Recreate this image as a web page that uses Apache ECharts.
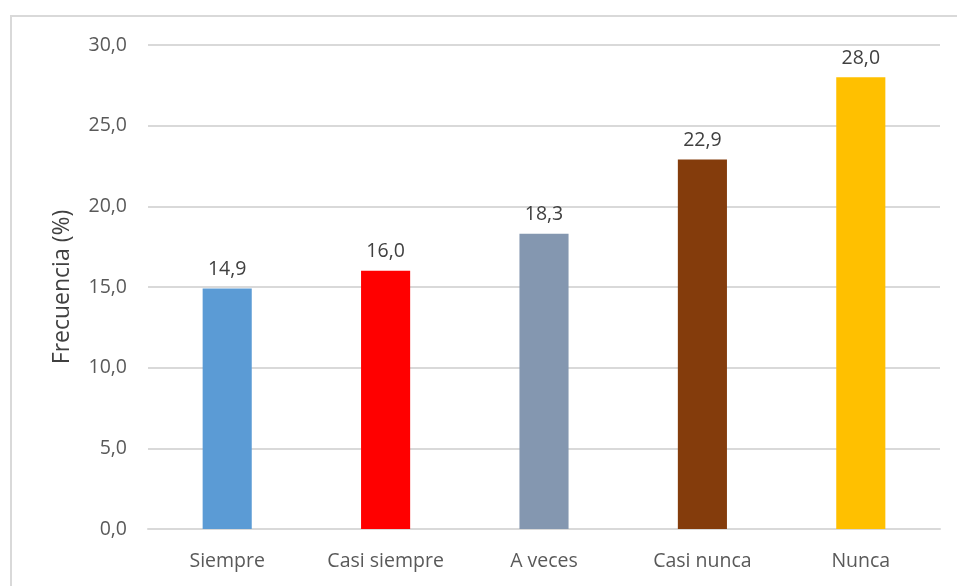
<!DOCTYPE html>
<html>
<head>
<meta charset="utf-8">
<script src="https://cdn.jsdelivr.net/npm/echarts@6/dist/echarts.min.js"></script>
<style>
  html, body { margin: 0; padding: 0; background: #fff; }
  #chart { width: 957px; height: 586px; }
</style>
</head>
<body>
<div id="chart"></div>
<script>
// Frequency of each response option (%)
const categories = ['Siempre', 'Casi siempre', 'A veces', 'Casi nunca', 'Nunca'];
const values = [14.9, 16.0, 18.3, 22.9, 28.0];
const barColors = ['#5B9BD5', '#FF0000', '#8497B0', '#843C0C', '#FFC000'];
const yTicks = [0, 5, 10, 15, 20, 25, 30];

const fmt = v => v.toFixed(1).replace('.', ',');
const font = '"Open Sans", "Liberation Sans", sans-serif';

const chart = echarts.init(document.getElementById('chart'), null, { renderer: 'canvas' });
chart.setOption({
  animation: false,
  backgroundColor: '#fff',
  graphic: [{
    type: 'rect',
    shape: { x: 11, y: 16, width: 980, height: 620 },
    style: { fill: 'none', stroke: '#d9d9d9', lineWidth: 2 },
    silent: true
  }],
  grid: { left: 148, right: 17, top: 45, bottom: 57, containLabel: false },
  xAxis: {
    type: 'category',
    data: categories,
    axisLine: { show: true, lineStyle: { color: '#d9d9d9', width: 2 } },
    axisTick: { show: false },
    axisLabel: { color: '#595959', fontSize: 19.5, fontFamily: font, margin: 22 }
  },
  yAxis: {
    type: 'value',
    min: yTicks[0],
    max: yTicks[yTicks.length - 1],
    interval: 5,
    name: 'Frecuencia (%)',
    nameLocation: 'middle',
    nameGap: 74,
    nameRotate: 90,
    nameTextStyle: { color: '#404040', fontSize: 23, fontFamily: font },
    axisLine: { show: false },
    axisTick: { show: false },
    splitLine: { lineStyle: { color: '#d9d9d9', width: 2 } },
    axisLabel: { color: '#595959', fontSize: 19.5, fontFamily: font, margin: 21, formatter: v => fmt(v) }
  },
  series: [{
    type: 'bar',
    barWidth: '31%',
    data: values.map((v, i) => ({ value: v, itemStyle: { color: barColors[i] } })),
    label: {
      show: true,
      position: 'top',
      distance: 9,
      color: '#404040',
      fontSize: 19.5,
      fontFamily: font,
      formatter: p => fmt(p.value)
    }
  }]
});
</script>
</body>
</html>
